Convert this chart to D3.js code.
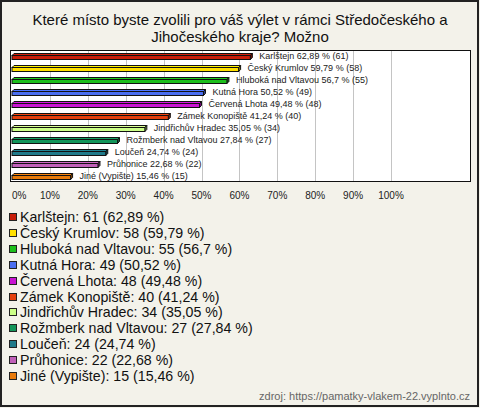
<!DOCTYPE html>
<html><head><meta charset="utf-8">
<script src="https://cdn.jsdelivr.net/npm/d3@7"></script>
<style>body{margin:0;background:#f3f2ea;}svg{display:block;font-family:"Liberation Sans",Arial,sans-serif;}</style>
</head><body><svg id="c" width="480" height="408"></svg>
<script>
const categories = ["Karlštejn","Český Krumlov","Hluboká nad Vltavou","Kutná Hora","Červená Lhota","Zámek Konopiště","Jindřichův Hradec","Rožmberk nad Vltavou","Loučeň","Průhonice","Jiné (Vypište)"];
const counts = [61,58,55,49,48,40,34,27,24,22,15];
const percents = [62.89,59.79,56.7,50.52,49.48,41.24,35.05,27.84,24.74,22.68,15.46];
const colors = ["#c81e0a","#ffe000","#1cbf1c","#4a6ef0","#c814d2","#e4400e","#ccff88","#12955a","#1f7a8a","#c060b8","#e87a0a"];
const ticks = [0,10,20,30,40,50,60,70,80,90,100];
const titleLines = ["Které místo byste zvolili pro váš výlet v rámci Středočeského a","Jihočeského kraje? Možno"];
const source = "zdroj: https://pamatky-vlakem-22.vyplnto.cz";

const svg = d3.select("#c");
const fmt = v => String(v).replace(".", ",");
svg.append("rect").attr("x",1).attr("y",1).attr("width",477).attr("height",405).attr("fill","#f3f2ea").attr("stroke","#222").attr("stroke-width",2);

svg.selectAll("text.title").data(titleLines).join("text").attr("class","title")
  .attr("x",240).attr("y",(d,i)=>25+i*17).attr("text-anchor","middle")
  .attr("font-size",15).attr("fill","#111").text(d=>d);

const x = d3.scaleLinear().domain([0,100]).range([12,391]);
const y = d3.scaleBand().domain(categories).range([50,182]);

svg.append("rect").attr("x",10.5).attr("y",50.5).attr("width",460).attr("height",131).attr("fill","#fff").attr("stroke","#111").attr("stroke-width",1);
svg.selectAll("line.grid").data(ticks.slice(1)).join("line").attr("class","grid")
  .attr("x1",d=>Math.round(x(d))+0.5).attr("x2",d=>Math.round(x(d))+0.5)
  .attr("y1",51).attr("y2",181).attr("stroke","#c4c4c4");

const g = svg.append("g");
categories.forEach((c,i)=>{
  const cy = y(c)+y.bandwidth()/2;
  const x0 = x(0), x1 = x(percents[i]);
  const top = Math.round(cy-1)+0.5, h=4, o=2;
  const col = colors[i], dark = d3.color(col).darker(1.5);
  g.append("path").attr("d",`M${x0},${top}L${x0+o},${top-o}L${x1+o},${top-o}L${x1},${top}Z`).attr("fill",d3.color(col).brighter(0.2)).attr("stroke","#111").attr("stroke-width",1);
  g.append("path").attr("d",`M${x1},${top}L${x1+o},${top-o}L${x1+o},${top-o+h}L${x1},${top+h}Z`).attr("fill",dark).attr("stroke","#111").attr("stroke-width",1);
  g.append("rect").attr("x",x0).attr("y",top).attr("width",x1-x0).attr("height",h).attr("fill",col).attr("stroke","#111").attr("stroke-width",1);
  g.append("text").attr("x",x1+o+7).attr("y",cy+3).attr("font-size",9).attr("fill","#222")
    .text(`${c} ${fmt(percents[i])} % (${counts[i]})`);
});

svg.selectAll("text.tick").data(ticks).join("text").attr("class","tick")
  .attr("x",d=>x(d)).attr("y",199).attr("text-anchor",d=>d===0?"start":"middle")
  .attr("font-size",10).attr("fill","#222").text(d=>d+"%");

const lg = svg.append("g");
categories.forEach((c,i)=>{
  const cy = 217 + i*15.9;
  lg.append("rect").attr("x",9.5).attr("y",Math.round(cy-4)+0.5).attr("width",7).attr("height",7)
    .attr("fill",colors[i]).attr("stroke","#222");
  lg.append("text").attr("x",20).attr("y",cy+5).attr("font-size",14.2).attr("fill","#111")
    .text(`${c}: ${counts[i]} (${fmt(percents[i])} %)`);
});

svg.append("text").attr("x",470).attr("y",400).attr("text-anchor","end").attr("font-size",11).attr("fill","#666").text(source);
</script></body></html>
